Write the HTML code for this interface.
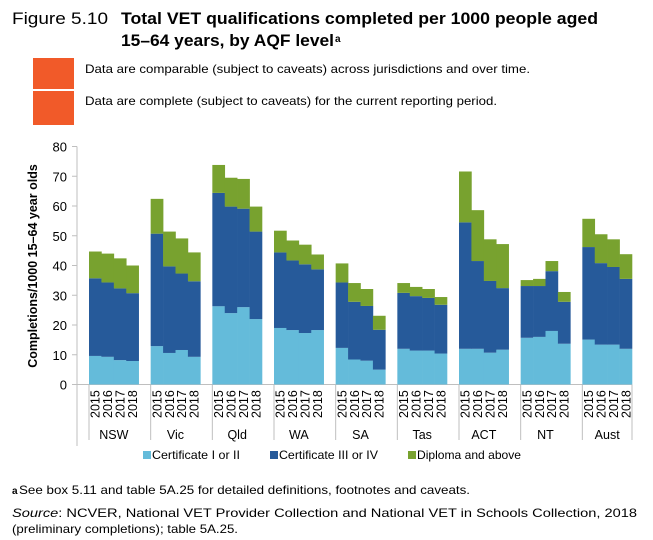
<!DOCTYPE html>
<html><head><meta charset="utf-8"><style>
html,body{margin:0;padding:0;background:#fff;}
svg{display:block;font-family:"Liberation Sans",Arial,sans-serif;}
</style></head><body>
<svg id="chart" width="653" height="540" viewBox="0 0 653 540" xmlns="http://www.w3.org/2000/svg">
<text x="12" y="24" font-size="17" textLength="96" lengthAdjust="spacingAndGlyphs">Figure 5.10</text>
<text x="121" y="24" font-size="17" font-weight="bold" textLength="477" lengthAdjust="spacingAndGlyphs">Total VET qualifications completed per 1000 people aged</text>
<text x="121" y="46" font-size="17" font-weight="bold" textLength="213" lengthAdjust="spacingAndGlyphs">15–64 years, by AQF level</text>
<text x="335" y="42" font-size="10" font-weight="bold">a</text>
<rect x="33" y="58" width="41" height="31" fill="#F15A29"/>
<rect x="33" y="91" width="41" height="34" fill="#F15A29"/>
<text x="85" y="73" font-size="12" textLength="445" lengthAdjust="spacingAndGlyphs">Data are comparable (subject to caveats) across jurisdictions and over time.</text>
<text x="85" y="105" font-size="12" textLength="412" lengthAdjust="spacingAndGlyphs">Data are complete (subject to caveats) for the current reporting period.</text>
<g id="plot"></g>
<text transform="translate(37,266) rotate(-90)" text-anchor="middle" font-size="12.5" font-weight="bold">Completions/1000 15–64 year olds</text>
<g>
<rect x="143" y="451" width="8" height="8" fill="#64BBDA"/>
<text x="152" y="459" font-size="12" textLength="88" lengthAdjust="spacingAndGlyphs">Certificate I or II</text>
<rect x="270" y="451" width="8" height="8" fill="#265A9A"/>
<text x="279" y="459" font-size="12" textLength="99" lengthAdjust="spacingAndGlyphs">Certificate III or IV</text>
<rect x="408" y="451" width="8" height="8" fill="#78A22F"/>
<text x="417" y="459" font-size="12" textLength="104" lengthAdjust="spacingAndGlyphs">Diploma and above</text>
</g>
<text x="12" y="494" font-size="10" font-weight="bold">a</text>
<text x="19" y="494" font-size="12" textLength="451" lengthAdjust="spacingAndGlyphs">See box 5.11 and table 5A.25 for detailed definitions, footnotes and caveats.</text>
<text x="12" y="517" font-size="12" textLength="625" lengthAdjust="spacingAndGlyphs"><tspan font-style="italic">Source</tspan>: NCVER, National VET Provider Collection and National VET in Schools Collection, 2018</text>
<text x="12" y="533" font-size="12" textLength="226" lengthAdjust="spacingAndGlyphs">(preliminary completions); table 5A.25.</text>
</svg>
<script>
const categories = ["NSW","Vic","Qld","WA","SA","Tas","ACT","NT","Aust"];
const years = ["2015","2016","2017","2018"];
// cumulative readings converted to component values
const cert12 = [
 [9.6,9.3,8.2,7.9],[12.9,10.6,11.6,9.3],[26.3,24.0,26.0,22.0],[19.0,18.3,17.3,18.3],
 [12.3,8.4,8.0,5.0],[12.0,11.4,11.4,10.4],[12.0,12.0,10.7,11.7],[15.7,16.0,18.0,13.7],[15.1,13.4,13.4,12.0]];
const cert34 = [
 [26.1,25.0,24.1,22.8],[37.8,29.1,25.7,25.4],[38.1,35.8,33.1,29.4],[25.4,23.4,23.1,20.4],
 [22.0,19.4,18.4,13.4],[18.8,18.3,17.7,16.4],[42.5,29.5,24.1,20.7],[17.4,17.1,20.1,14.1],[31.1,27.4,26.1,23.5]];
const diploma = [
 [9.0,9.7,10.1,9.3],[11.7,11.7,11.8,9.7],[9.4,9.7,10.0,8.4],[7.3,6.7,6.6,5.0],
 [6.4,6.3,5.7,4.7],[3.3,3.1,3.0,2.6],[17.1,17.1,14.0,14.8],[2.0,2.4,3.4,3.3],[9.5,9.7,9.3,8.3]];
const yTicks = [0,10,20,30,40,50,60,70,80];

const NS="http://www.w3.org/2000/svg";
const g=document.getElementById('plot');
const x0=77, x1=632, y0=384.5, y80=146.5;
const catW=(x1-x0)/categories.length, barOff=12, barW=(catW-barOff)/4;
const yS=v=>y0-(v/80)*(y0-y80);
function mk(t,a){const e=document.createElementNS(NS,t);for(const k in a)e.setAttribute(k,a[k]);g.appendChild(e);return e;}
yTicks.forEach(t=>{
  const tx=mk('text',{x:67,y:yS(t)+5,'text-anchor':'end','font-size':13});
  tx.textContent=t;
  
  
  const tk=mk('line',{x1:72,x2:77,y1:yS(t),y2:yS(t),stroke:'#bfbfbf'});
  
  
});
const ax=mk('line',{x1:x0,x2:x0,y1:y80,y2:446,stroke:'#bfbfbf'});


const xa=mk('line',{x1:x0,x2:x1,y1:y0,y2:y0,stroke:'#bfbfbf'});


const cols=['#64BBDA','#265A9A','#78A22F'];
const series=[cert12,cert34,diploma];
const sNames=['cert-1-2','cert-3-4','diploma'];
categories.forEach((c,i)=>{
  const cx=x0+i*catW+barOff;
  const sep=mk('line',{x1:cx,x2:cx,y1:y0,y2:440,stroke:'#bfbfbf'});
  
  
  years.forEach((yr,j)=>{
    let base=0;
    const bx=cx+j*barW;
    series.forEach((s,k)=>{
      const v=s[i][j];
      const r=mk('rect',{x:bx,y:yS(base+v),width:barW+0.3,height:yS(base)-yS(base+v),fill:cols[k]});
      
      
      base+=v;
    });
    const t=mk('text',{transform:`translate(${bx+barW/2+4.5},418) rotate(-90)`,'font-size':12.5});
    t.textContent=yr;
    
    
  });
  const ct=mk('text',{x:cx+catW/2-6,y:439,'text-anchor':'middle','font-size':12.5});
  ct.textContent=c;
  
  
});
const endSep=mk('line',{x1:x1,x2:x1,y1:y0,y2:440,stroke:'#bfbfbf'});


</script>
</body></html>
